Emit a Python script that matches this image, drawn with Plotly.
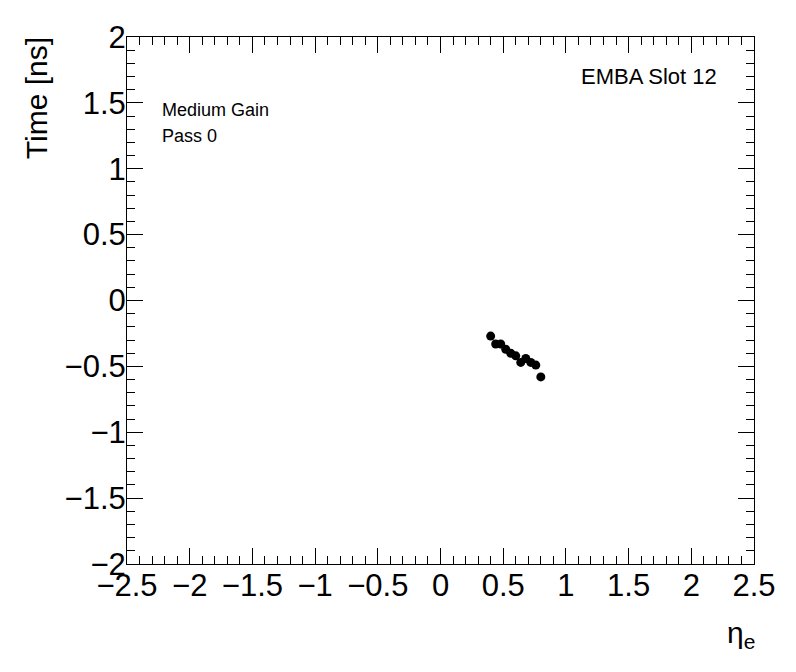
import plotly.graph_objects as go

eta = [0.40, 0.44, 0.48, 0.52, 0.56, 0.60, 0.64, 0.68, 0.72, 0.76, 0.80]
time_ns = [-0.27, -0.33, -0.33, -0.37, -0.40, -0.42, -0.47, -0.44, -0.47, -0.49, -0.58]

x_ticks = [-2.5, -2, -1.5, -1, -0.5, 0, 0.5, 1, 1.5, 2, 2.5]
y_ticks = [-2, -1.5, -1, -0.5, 0, 0.5, 1, 1.5, 2]

FONT = "Liberation Sans, Arial, Helvetica, sans-serif"

def lab(v):
    return ("%g" % v).replace("-", "\u2212")

fig = go.Figure()
fig.add_trace(go.Scatter(
    x=eta, y=time_ns, mode="markers",
    marker=dict(color="black", size=9, symbol="circle"),
    showlegend=False,
))

axis_common = dict(
    showgrid=False, zeroline=False, showline=True, linecolor="black", linewidth=1,
    mirror="ticks", ticks="inside", ticklen=16, tickcolor="black", tickwidth=1,
    minor=dict(ticks="inside", ticklen=8, tickcolor="black", tickwidth=1, dtick=0.1, showgrid=False),
    tickfont=dict(family=FONT, size=31, color="black"),
)

fig.update_xaxes(range=[-2.5, 2.5], tickmode="array", tickvals=x_ticks,
                 ticktext=[lab(v) for v in x_ticks], ticklabelstandoff=-6, **axis_common)
fig.update_yaxes(range=[-2, 2], tickmode="array", tickvals=y_ticks,
                 ticktext=[lab(v) for v in y_ticks], ticklabelstandoff=-6, **axis_common)

fig.update_layout(
    width=780, height=656,
    margin=dict(l=119, r=32, t=26, b=100),
    paper_bgcolor="white", plot_bgcolor="white",
    font=dict(family=FONT, color="black"),
    annotations=[
        dict(text="Time [ns]", xref="paper", yref="paper", x=-0.143, y=1.004,
             xanchor="center", yanchor="top", textangle=-90, showarrow=False,
             font=dict(family=FONT, size=30)),
        dict(text="η<sub>e</sub>", xref="paper", yref="paper", x=1.004, y=-0.095,
             xanchor="right", yanchor="top", showarrow=False,
             font=dict(family=FONT, size=30)),
        dict(text="Medium Gain", xref="paper", yref="paper", x=0.053, y=0.862,
             xanchor="left", yanchor="middle", showarrow=False,
             font=dict(family=FONT, size=18)),
        dict(text="Pass 0", xref="paper", yref="paper", x=0.053, y=0.813,
             xanchor="left", yanchor="middle", showarrow=False,
             font=dict(family=FONT, size=18)),
        dict(text="EMBA Slot 12", xref="paper", yref="paper", x=0.944, y=0.925,
             xanchor="right", yanchor="middle", showarrow=False,
             font=dict(family=FONT, size=22)),
    ],
)

fig.write_html("out.html")
